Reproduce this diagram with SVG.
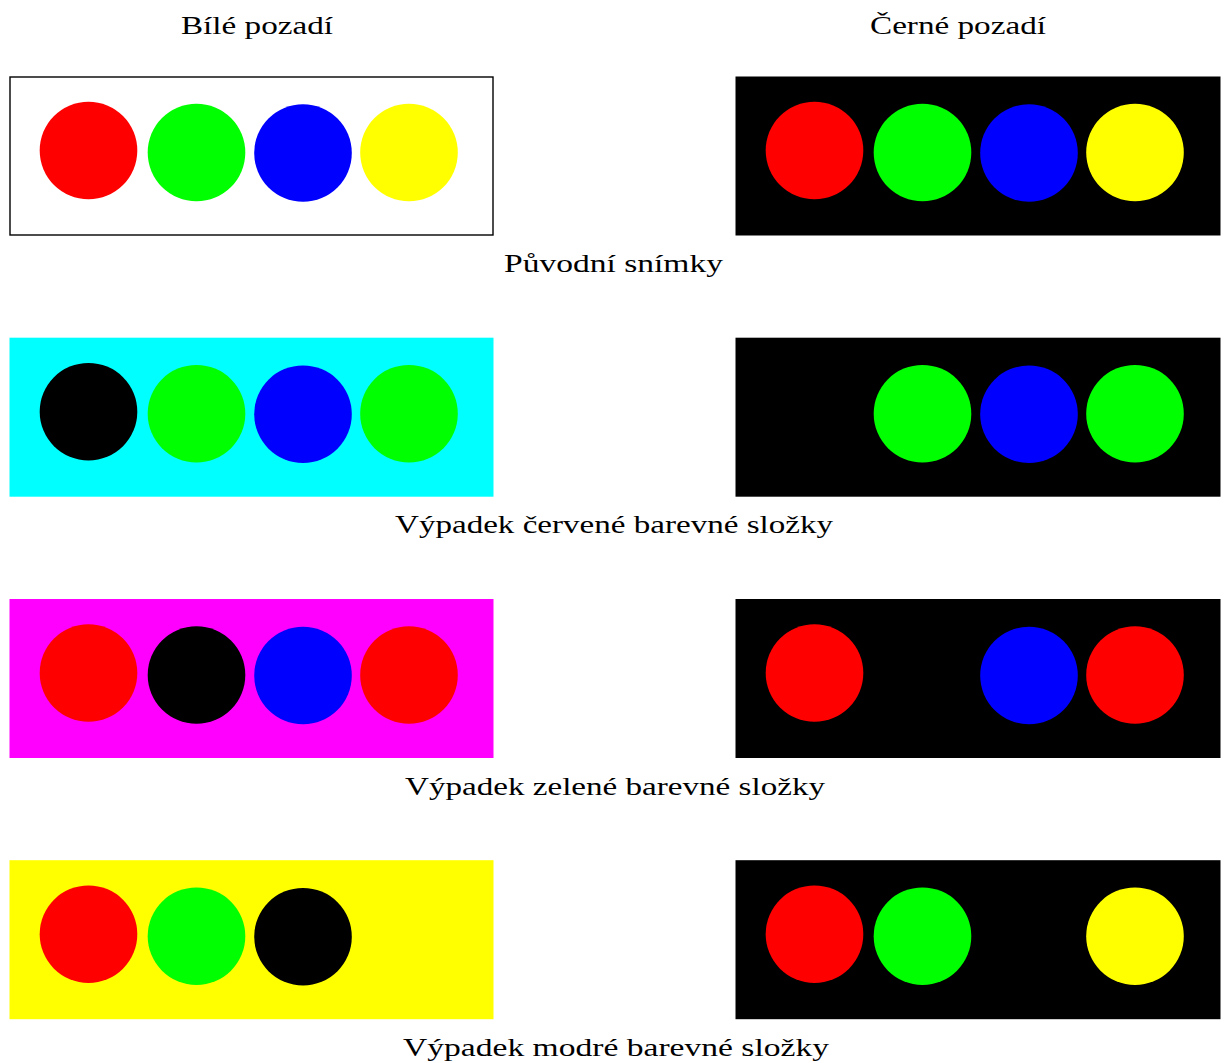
<svg xmlns="http://www.w3.org/2000/svg" width="1224" height="1063" viewBox="0 0 1224 1063">
  <style>
    .lbl { font-family: "Liberation Serif", "DejaVu Serif", serif; font-size: 25px; fill: #000; }
    .r { fill: #ff0000; }
    .g { fill: #00ff00; }
    .b { fill: #0000ff; }
    .y { fill: #ffff00; }
    .k { fill: #000000; }
  </style>
  <defs>
    <!-- four discs at fixed offsets within a 484x159 frame -->
    <circle id="c1" cx="79" cy="74" r="48.8"/>
    <circle id="c2" cx="187" cy="76" r="48.8"/>
    <circle id="c3" cx="293.5" cy="76.5" r="48.8"/>
    <circle id="c4" cx="399.5" cy="76" r="48.8"/>
  </defs>

  <rect width="1224" height="1063" fill="#fff"/>

  <!-- column headings -->
  <text class="lbl" x="181" y="34" textLength="152" lengthAdjust="spacingAndGlyphs">Bílé pozadí</text>
  <text class="lbl" x="870" y="34" textLength="176" lengthAdjust="spacingAndGlyphs">Černé pozadí</text>

  <!-- row 1: original images -->
  <g id="row1-white" transform="translate(9.5,76.5)">
    <rect x="0.5" y="0.5" width="483" height="158" fill="#fff" stroke="#000" stroke-width="1.4"/>
    <use href="#c1" class="r"/><use href="#c2" class="g"/><use href="#c3" class="b"/><use href="#c4" class="y"/>
  </g>
  <g id="row1-black" transform="translate(735.5,76.5)">
    <rect width="485" height="159" class="k"/>
    <use href="#c1" class="r"/><use href="#c2" class="g"/><use href="#c3" class="b"/><use href="#c4" class="y"/>
  </g>
  <text class="lbl" x="504" y="272" textLength="219" lengthAdjust="spacingAndGlyphs">Původní snímky</text>

  <!-- row 2: red channel removed -->
  <g id="row2-white" transform="translate(9.5,337.7)">
    <rect width="484" height="159" fill="#00ffff"/>
    <use href="#c1" class="k"/><use href="#c2" class="g"/><use href="#c3" class="b"/><use href="#c4" class="g"/>
  </g>
  <g id="row2-black" transform="translate(735.5,337.7)">
    <rect width="485" height="159" class="k"/>
    <use href="#c2" class="g"/><use href="#c3" class="b"/><use href="#c4" class="g"/>
  </g>
  <text class="lbl" x="395" y="533" textLength="438" lengthAdjust="spacingAndGlyphs">Výpadek červené barevné složky</text>

  <!-- row 3: green channel removed -->
  <g id="row3-white" transform="translate(9.5,599)">
    <rect width="484" height="159" fill="#ff00ff"/>
    <use href="#c1" class="r"/><use href="#c2" class="k"/><use href="#c3" class="b"/><use href="#c4" class="r"/>
  </g>
  <g id="row3-black" transform="translate(735.5,599)">
    <rect width="485" height="159" class="k"/>
    <use href="#c1" class="r"/><use href="#c3" class="b"/><use href="#c4" class="r"/>
  </g>
  <text class="lbl" x="405" y="794.5" textLength="420" lengthAdjust="spacingAndGlyphs">Výpadek zelené barevné složky</text>

  <!-- row 4: blue channel removed -->
  <g id="row4-white" transform="translate(9.5,860.2)">
    <rect width="484" height="159" fill="#ffff00"/>
    <use href="#c1" class="r"/><use href="#c2" class="g"/><use href="#c3" class="k"/>
  </g>
  <g id="row4-black" transform="translate(735.5,860.2)">
    <rect width="485" height="159" class="k"/>
    <use href="#c1" class="r"/><use href="#c2" class="g"/><use href="#c4" class="y"/>
  </g>
  <text class="lbl" x="403" y="1055.5" textLength="426" lengthAdjust="spacingAndGlyphs">Výpadek modré barevné složky</text>
</svg>
